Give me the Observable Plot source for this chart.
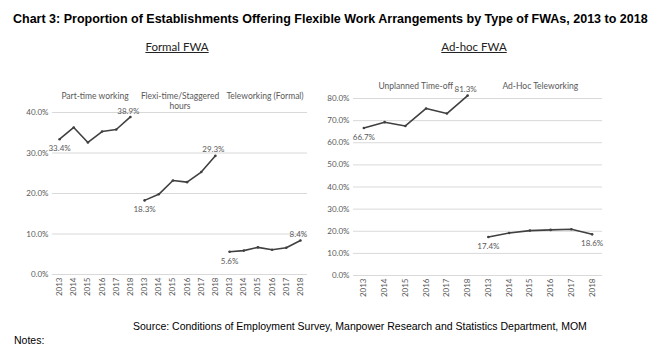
<!DOCTYPE html>
<html><head><meta charset="utf-8">
<script src="https://cdn.jsdelivr.net/npm/d3@7"></script>
<script src="https://cdn.jsdelivr.net/npm/@observablehq/plot@0.6"></script>
<style>
html,body{margin:0;padding:0;background:#fff;}
body{width:665px;height:350px;position:relative;overflow:hidden;font-family:"Liberation Sans",Arial,sans-serif;}
.abs{position:absolute;white-space:nowrap;}
#title{left:13px;top:12px;font-weight:bold;font-size:12.5px;color:#000;}
.head{top:40px;font-family:Lato,"Open Sans",sans-serif;font-size:11.5px;color:#222;text-decoration:underline;transform:translateX(-50%);}
#source{left:133px;top:320px;font-size:10.5px;color:#000;}
#notes{left:14px;top:334px;font-size:10.5px;color:#000;}
#left{left:0;top:60px;}
#right{left:320px;top:60px;}
</style></head>
<body>
<div class="abs" id="title">Chart 3: Proportion of Establishments Offering Flexible Work Arrangements by Type of FWAs, 2013 to 2018</div>
<div class="abs head" style="left:177px">Formal FWA</div>
<div class="abs head" style="left:474px">Ad-hoc FWA</div>
<div class="abs" id="left"></div>
<div class="abs" id="right"></div>
<div class="abs" id="source">Source: Conditions of Employment Survey, Manpower Research and Statistics Department, MOM</div>
<div class="abs" id="notes">Notes:</div>
<script>
const years = ["2013","2014","2015","2016","2017","2018"];
const formalSeries = ["Part-time working", "Flexi-time/Staggered\nhours", "Teleworking (Formal)"];
const partTime   = [33.4, 36.3, 32.6, 35.3, 35.8, 38.9];
const flexiTime  = [18.3, 19.8, 23.2, 22.8, 25.3, 29.3];
const teleFormal = [5.6, 5.9, 6.7, 6.1, 6.6, 8.4];
const adhocSeries = ["Unplanned Time-off", "Ad-Hoc Teleworking"];
const unplanned  = [66.7, 69.3, 67.6, 75.5, 73.2, 81.3];
const adhocTele  = [17.4, 19.2, 20.3, 20.6, 20.9, 18.6];
const formalTicks = [0, 10, 20, 30, 40];
const adhocTicks = [0, 10, 20, 30, 40, 50, 60, 70, 80];

const C = "#404040", G = "#595959", FONT = "Lato, 'Open Sans', sans-serif";

function rows(seriesNames, valueLists) {
  const out = [];
  valueLists.forEach((vals, g) => vals.forEach((v, k) => out.push({
    i: g * years.length + k, year: years[k], series: seriesNames[g], value: v / 100,
    pos: k === 0 ? "first" : (k === vals.length - 1 ? "last" : "mid"), g
  })));
  return out;
}

function panel(seriesNames, valueLists, ticks, opts) {
  const data = rows(seriesNames, valueLists);
  const n = seriesNames.length * years.length;
  const titles = seriesNames.map((s, g) => ({s, x: g * years.length + 2.5}));
  const below = d => d.pos === "first" || (opts.belowLast && opts.belowLast.includes(d.g) && d.pos === "last");
  return Plot.plot({
    width: opts.width, height: 240,
    marginLeft: opts.ml, marginRight: opts.mr, marginTop: opts.mt, marginBottom: opts.mb,
    style: {fontFamily: FONT, fontSize: "8px", color: G, background: "transparent", overflow: "visible"},
    x: {type: "linear", domain: [-0.5, n - 0.5], axis: null},
    y: {domain: [0, ticks[ticks.length - 1] / 100], axis: null},
    marks: [
      Plot.ruleY(ticks.map(t => t / 100), {stroke: "#d9d9d9", strokeWidth: 1}),
      Plot.axisY(ticks.map(t => t / 100), {tickSize: 0, tickPadding: 4, tickFormat: d3.format(".1%"), fill: G, fontSize: 8, label: null}),
      Plot.axisX(d3.range(n), {tickSize: 0, tickPadding: 3, tickRotate: -90, tickFormat: i => years[i % years.length], fill: G, fontSize: 8, label: null}),
      Plot.line(data, {x: "i", y: "value", z: "series", stroke: C, strokeWidth: 1.6}),
      Plot.dot(data, {x: "i", y: "value", r: 1.3, fill: C, stroke: null}),
      Plot.text(data.filter(d => d.pos !== "mid" && below(d)), {x: "i", y: "value", text: d => d3.format(".1%")(d.value), dy: 9.5, fill: G, fontSize: 8}),
      Plot.text(data.filter(d => d.pos === "last" && !below(d)), {x: "i", y: "value", text: d => d3.format(".1%")(d.value), dy: -6, dx: -2, fill: G, fontSize: 8}),
      Plot.text(titles, {x: "x", text: "s", frameAnchor: "top", dy: opts.titleDy, fill: G, fontSize: 8.5, lineHeight: 1.15})
    ]
  });
}

document.getElementById("left").append(panel(formalSeries, [partTime, flexiTime, teleFormal], formalTicks,
  {width: 320, ml: 52, mr: 13, mt: 52, mb: 26, titleDy: -20}));
document.getElementById("right").append(panel(adhocSeries, [unplanned, adhocTele], adhocTicks,
  {width: 345, ml: 33, mr: 63, mt: 38, mb: 25, titleDy: -16, belowLast: [1]}));
</script>
</body></html>
